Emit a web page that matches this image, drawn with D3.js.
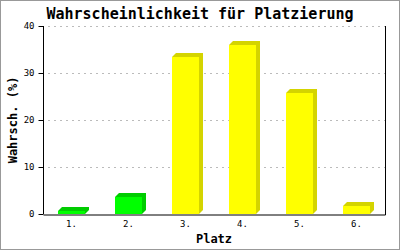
<!DOCTYPE html>
<html>
<head>
<meta charset="utf-8">
<script src="https://cdn.jsdelivr.net/npm/d3@7"></script>
<style>
  body { margin: 0; background: #fff; }
  svg text { font-family: "DejaVu Sans Mono", monospace; }
</style>
</head>
<body>
<div id="chart"></div>
<script>
// data
const places = ['1.', '2.', '3.', '4.', '5.', '6.'];
const probabilities = [0.6, 3.6, 33.5, 36.0, 25.8, 1.6];
const highlighted = [true, true, false, false, false, false];
const yTicks = [0, 10, 20, 30, 40];

const width = 400;
const height = 250;
const margin = {top: 26, right: 15, bottom: 36, left: 43};
const depth = 4;

const svg = d3.select('#chart')
  .append('svg')
  .attr('width', width)
  .attr('height', height);

svg.append('rect')
  .attr('x', 0.5).attr('y', 0.5)
  .attr('width', width - 1).attr('height', height - 1)
  .attr('fill', '#fff')
  .attr('stroke', '#999');

const x = d3.scaleBand()
  .domain(places)
  .range([margin.left, width - margin.right]);

const y = d3.scaleLinear()
  .domain([0, 40])
  .range([height - margin.bottom, margin.top]);

// grid
svg.append('g')
  .selectAll('line')
  .data(yTicks.filter(d => d > 0))
  .enter()
  .append('line')
  .attr('x1', margin.left + 5)
  .attr('x2', width - margin.right)
  .attr('y1', d => Math.round(y(d)) + 0.5)
  .attr('y2', d => Math.round(y(d)) + 0.5)
  .attr('stroke', '#bbb')
  .attr('stroke-dasharray', '2,4');

// bars
const barW = x.bandwidth() * 0.47;
const bars = svg.append('g').selectAll('g')
  .data(places)
  .enter()
  .append('g');

bars.each(function (d, i) {
  const g = d3.select(this);
  const x0 = Math.round(x(d) + (x.bandwidth() - barW) / 2);
  const x1 = Math.round(x0 + barW);
  const y0 = y(0);
  const yt = Math.round(y(probabilities[i]));
  const front = highlighted[i] ? '#00ff00' : '#ffff00';
  const shade = highlighted[i] ? '#00cc00' : '#d4d400';
  g.append('path')
    .attr('d', `M${x0},${yt}L${x0 + depth},${yt - depth}L${x1 + depth},${yt - depth}L${x1 + depth},${y0 - depth}L${x1},${y0}L${x1},${yt}Z`)
    .attr('fill', shade);
  g.append('rect')
    .attr('x', x0)
    .attr('y', yt)
    .attr('width', x1 - x0)
    .attr('height', y0 - yt)
    .attr('fill', front);
});

// axes
const yAxis = svg.append('g')
  .attr('transform', `translate(${margin.left + 0.5},0)`)
  .call(d3.axisLeft(y).tickValues(yTicks).tickSize(5).tickPadding(4));
yAxis.select('.domain').attr('stroke', '#000').attr('d', `M0,${y(40)}V${y(0)}`);
yAxis.selectAll('.tick line').attr('stroke', '#000');
yAxis.selectAll('.tick text')
  .attr('font-size', 9)
  .attr('fill', '#000')
  .style('font-family', '"DejaVu Sans Mono", monospace');

const xAxis = svg.append('g')
  .attr('transform', `translate(0,${y(0) + 0.5})`)
  .call(d3.axisBottom(x).tickSize(0).tickPadding(6));
xAxis.select('.domain').attr('stroke', '#000');
xAxis.selectAll('.tick text')
  .attr('font-size', 9)
  .attr('fill', '#000')
  .style('font-family', '"DejaVu Sans Mono", monospace');

// right frame line
svg.append('line')
  .attr('x1', width - margin.right + 0.5)
  .attr('x2', width - margin.right + 0.5)
  .attr('y1', y(40))
  .attr('y2', y(0) + 1)
  .attr('stroke', '#000');

// titles
svg.append('text')
  .attr('x', 200)
  .attr('y', 19)
  .attr('text-anchor', 'middle')
  .attr('font-size', 15)
  .attr('font-weight', 'bold')
  .text('Wahrscheinlichkeit für Platzierung');

svg.append('text')
  .attr('x', 214)
  .attr('y', 243)
  .attr('text-anchor', 'middle')
  .attr('font-size', 12)
  .attr('font-weight', 'bold')
  .text('Platz');

svg.append('text')
  .attr('transform', `translate(17,${(y(0) + y(40)) / 2}) rotate(-90)`)
  .attr('text-anchor', 'middle')
  .attr('font-size', 12)
  .attr('font-weight', 'bold')
  .text('Wahrsch. (%)');
</script>
</body>
</html>
